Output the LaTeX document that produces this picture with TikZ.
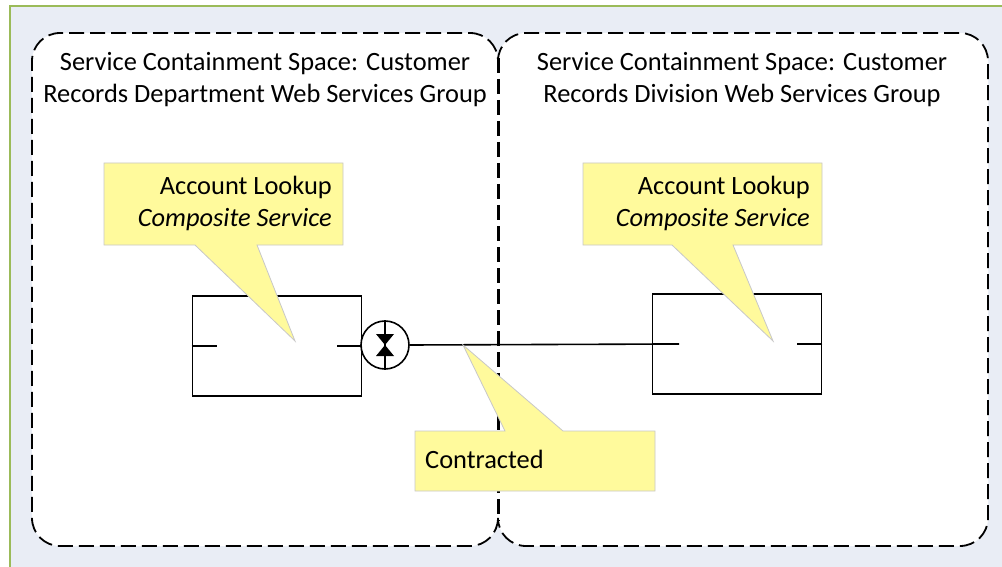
\documentclass[tikz,border=0pt]{standalone}
\usepackage{fontspec}
\setmainfont{Carlito}
\usetikzlibrary{calc}

\definecolor{paneblue}{HTML}{E9EDF5}
\definecolor{panegreen}{HTML}{9BBB59}
\definecolor{noteyellow}{HTML}{FFFA9C}
\definecolor{noteedge}{HTML}{C8C8C8}

\begin{document}
\begin{tikzpicture}[
        x=1pt, y=-1pt,
        every node/.style={font=\fontsize{26.4}{32}\selectfont, inner sep=0pt},
        space/.style={draw, dash pattern=on 15pt off 6pt, line width=1.8pt, rounded corners=28pt},
        svc/.style={draw, line width=1.6pt, minimum width=169pt, minimum height=100pt},
        note/.style={fill=noteyellow, draw=noteedge, line width=0.8pt}
    ]
    \useasboundingbox (0,0) rectangle (1002,567);

    % frame
    \fill[white] (0,0) rectangle (1002,567);
    \fill[paneblue] (10,6) rectangle (1002,567);
    \draw[panegreen, line width=2pt] (10,567) -- (10,6) -- (1002,6);

    % containment spaces
    \fill[white, rounded corners=28pt] (32,33) rectangle (498,546);
    \fill[white, rounded corners=28pt] (498,33) rectangle (988,546);
    \draw[space] (498,518) -- (498,546) -- (32,546) -- (32,33) -- (498,33) -- (498,61);
    \draw[space] (498,61) -- (498,33) -- (988,33) -- (988,546) -- (498,546) -- (498,518);
    \coordinate (seamtop) at (498.5,58);
    \coordinate (seambot) at (498.5,521);
    \draw[black, line width=2.4pt, dash pattern=on 15pt off 6pt] (seamtop) -- (seambot);

    \node[align=center] (title1) at (265,80) {Service Containment Space: Customer\\Records Department Web Services Group};
    \node[align=center] (title2) at (742,80) {Service Containment Space: Customer\\Records Division Web Services Group};

    % services
    \node[svc] (acct1) at (277,346) {};
    \node[svc] (acct2) at (737,344) {};
    \foreach \svcname in {acct1, acct2} {
        \draw[line width=1.6pt] (\svcname.west) -- ++(25,0);
        \draw[line width=1.6pt] (\svcname.east) -- ++(-25,0);
    }

    % contract symbol
    \node[draw, circle, line width=1.6pt, minimum size=48pt] (contract) at (385,345) {};
    \draw[line width=1.6pt] (contract.north) -- (contract.south);
    \fill ($(contract)+(-9,-11)$) -- ($(contract)+(9,-11)$) -- (contract.center) -- cycle;
    \fill ($(contract)+(-9,11)$) -- ($(contract)+(9,11)$) -- (contract.center) -- cycle;

    \coordinate (acct2in) at (679,344);
    \draw[line width=1.6pt] (contract.east) -- (acct2in);

    % callouts
    \filldraw[note] (104,163) -- (343,163) -- (343,245) -- (257,245) -- (295,341) -- (195,245) -- (104,245) -- cycle;
    \filldraw[note] (583,163) -- (822,163) -- (822,245) -- (733,245) -- (773,341) -- (672,245) -- (583,245) -- cycle;
    \filldraw[note] (415,431) -- (505,431) -- (463,345) -- (563,431) -- (655,431) -- (655,491) -- (415,491) -- cycle;

    \node[align=right, anchor=east] (note1) at (332,203) {Account Lookup\\\textit{Composite Service}};
    \node[align=right, anchor=east] (note2) at (810,203) {Account Lookup\\\textit{Composite Service}};
    \node[anchor=west] (note3) at (425,459) {Contracted};
\end{tikzpicture}
\end{document}
